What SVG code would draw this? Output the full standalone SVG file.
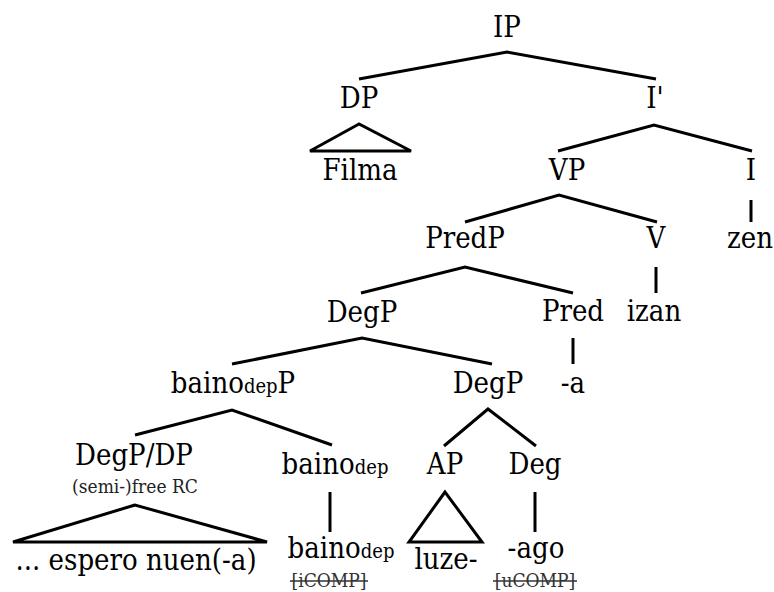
<svg xmlns="http://www.w3.org/2000/svg" width="774" height="592" viewBox="0 0 774 592">
  <style>
    text { font-family: "DejaVu Serif Condensed", "DejaVu Serif", serif; font-stretch: condensed; fill: #000; }
    .lbl { font-size: 29px; text-anchor: middle; }
    .sub { font-size: 20px; }
    .note { font-size: 19px; fill: #222; text-anchor: middle; }
    .feat { font-size: 19px; fill: #333; text-anchor: middle; }
    .edge { fill: none; stroke: #000; stroke-width: 3; stroke-linejoin: miter; }
    .strike { stroke: #333; stroke-width: 1.5; }
  </style>
  <rect width="774" height="592" fill="#fff"/>

  <!-- connectors -->
  <g id="connectors">
    <polyline class="edge" points="359,79 507,52 656,79"/>
    <polyline class="edge" points="558,151 654,125 752,151"/>
    <polyline class="edge" points="465,222 559,195 657,222"/>
    <polyline class="edge" points="361,293 465,267 573,293"/>
    <polyline class="edge" points="232,364 362,338 492,364"/>
    <polyline class="edge" points="135,435 232,410 332,445"/>
    <polyline class="edge" points="444,446 488,409 536,446"/>
    <line class="edge" x1="751" y1="200" x2="751" y2="222"/>
    <line class="edge" x1="656" y1="267" x2="656" y2="293"/>
    <line class="edge" x1="573" y1="338" x2="573" y2="364"/>
    <line class="edge" x1="330" y1="492" x2="330" y2="532"/>
    <line class="edge" x1="535" y1="492" x2="535" y2="532"/>
    <!-- roof triangles -->
    <polygon class="edge" points="359,124 310,151 411,151"/>
    <polygon class="edge" points="135,505 13,542 267,542"/>
    <polygon class="edge" points="445,492 409,542 482,542"/>
  </g>

  <g id="n-IP"><text class="lbl" x="507" y="37">IP</text></g>
  <g id="n-DP"><text class="lbl" x="359" y="108">DP</text></g>
  <g id="n-Ibar"><text class="lbl" x="655" y="108">I'</text></g>
  <g id="n-Filma"><text class="lbl" x="360" y="180">Filma</text></g>
  <g id="n-VP"><text class="lbl" x="567" y="180">VP</text></g>
  <g id="n-I"><text class="lbl" x="751" y="180">I</text></g>
  <g id="n-PredP"><text class="lbl" x="465" y="248">PredP</text></g>
  <g id="n-V"><text class="lbl" x="656" y="248">V</text></g>
  <g id="n-zen"><text class="lbl" x="750" y="248">zen</text></g>
  <g id="n-DegP1"><text class="lbl" x="362" y="322">DegP</text></g>
  <g id="n-Pred"><text class="lbl" x="573" y="321">Pred</text></g>
  <g id="n-izan"><text class="lbl" x="654" y="321">izan</text></g>
  <g id="n-bainodepP"><text class="lbl" x="233" y="393">baino<tspan class="sub">dep</tspan>P</text></g>
  <g id="n-DegP2"><text class="lbl" x="488" y="393">DegP</text></g>
  <g id="n-a"><text class="lbl" x="573" y="393">-a</text></g>
  <g id="n-DegPDP">
    <text class="lbl" x="134" y="465">DegP/DP</text>
    <text class="note" x="135" y="493">(semi-)free RC</text>
  </g>
  <g id="n-bainodep1"><text class="lbl" x="335" y="474">baino<tspan class="sub">dep</tspan></text></g>
  <g id="n-AP"><text class="lbl" x="445" y="474">AP</text></g>
  <g id="n-Deg"><text class="lbl" x="535" y="474">Deg</text></g>
  <g id="n-espero"><text class="lbl" x="136" y="570">... espero nuen(-a)</text></g>
  <g id="n-bainodep2">
    <text class="lbl" x="341" y="558">baino<tspan class="sub">dep</tspan></text>
    <text class="feat" x="329" y="587">[iCOMP]</text>
    <line class="strike" x1="290" y1="581" x2="368" y2="581"/>
  </g>
  <g id="n-luze"><text class="lbl" x="446" y="569">luze-</text></g>
  <g id="n-ago">
    <text class="lbl" x="536" y="558">-ago</text>
    <text class="feat" x="535" y="587">[uCOMP]</text>
    <line class="strike" x1="493" y1="581" x2="577" y2="581"/>
  </g>
</svg>
